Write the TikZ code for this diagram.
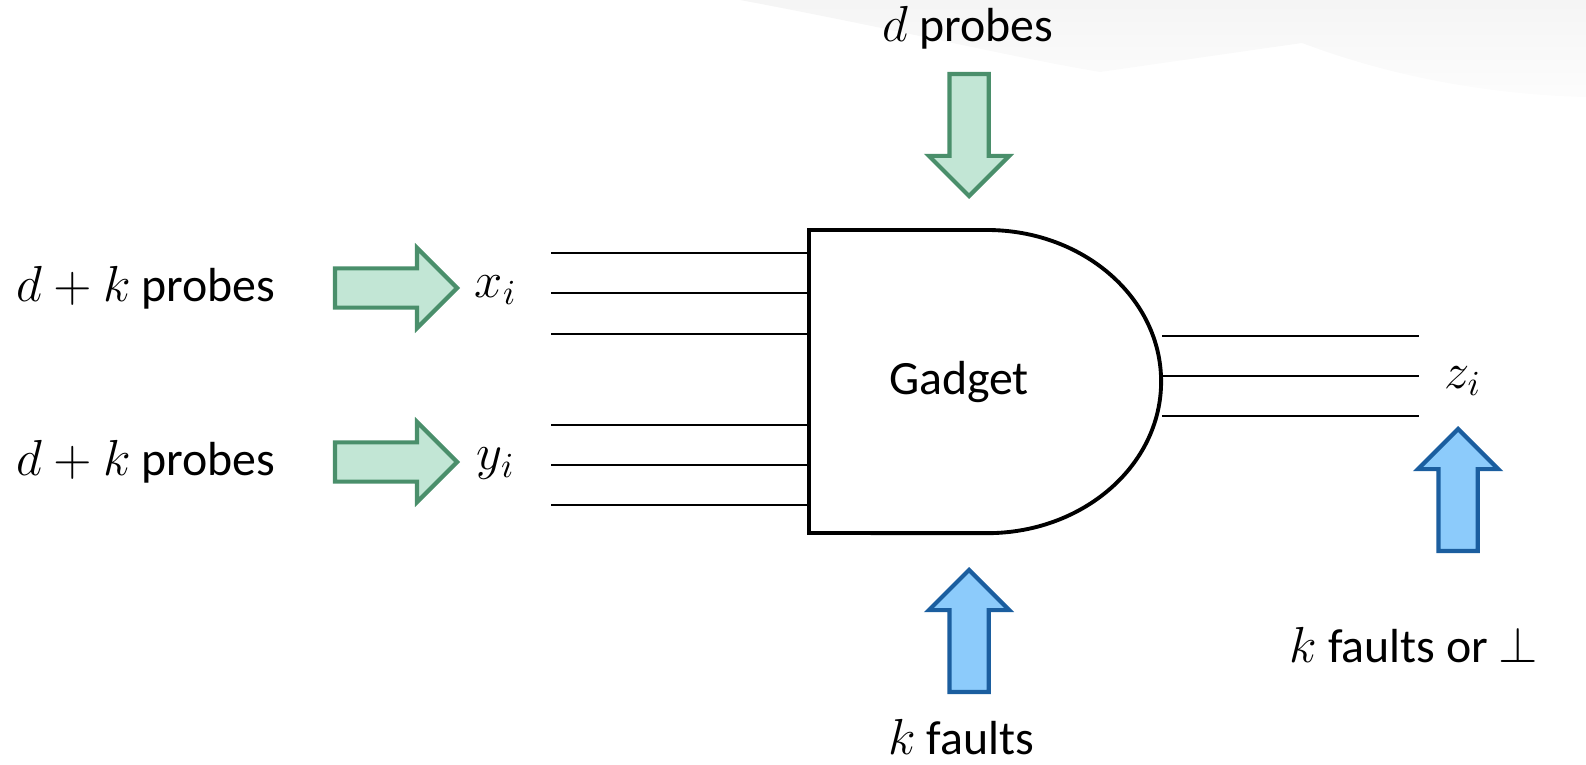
\documentclass[tikz,border=0pt]{standalone}
\usepackage{fontspec}
\setmainfont{Carlito}
\usetikzlibrary{shapes.arrows,positioning}
\definecolor{ProbeFill}{HTML}{C2E6D5}
\definecolor{ProbeLine}{HTML}{4A8F6B}
\definecolor{FaultFill}{HTML}{8CCBFB}
\definecolor{FaultLine}{HTML}{1B5E9F}

\begin{document}
\begin{tikzpicture}[x=0.01cm,y=-0.01cm,font=\fontsize{13.6}{16}\selectfont,
    blockarrow/.style={single arrow,draw,line width=1.2pt,inner sep=0.175cm,
      minimum height=1.22cm,single arrow head extend=0.205cm,single arrow tip angle=90,anchor=tip},
    probe/.style={blockarrow,fill=ProbeFill,draw=ProbeLine},
    fault/.style={blockarrow,fill=FaultFill,draw=FaultLine},
    wire/.style={line width=0.5pt}]
        \useasboundingbox (0,0) rectangle (1586,764);
        \shade[top color=black!4,bottom color=black!1] (740,0) .. controls (900,30) and (1000,55) .. (1100,72)
            -- (1302,43) .. controls (1400,80) and (1500,95) .. (1586,97) -- (1586,0) -- cycle;
        % the gadget
        \draw[line width=1.1pt] (809,230) -- (987,230)
            arc[start angle=90,end angle=-90,x radius=1.74cm,y radius=1.515cm] -- (809,533) -- cycle;
        \node (gadget) at (959,382) {Gadget};
        \foreach \y in {253,293,334,425,465,505}
          \draw[wire] (551,\y) -- (809,\y);
        \foreach \y in {336,376,416}
          \draw[wire] (1162,\y) -- (1419,\y);
        % probes and faults
        \node[probe] (arrx) at (460,288) {};
        \node[probe] (arry) at (460,462) {};
        \node[probe,shape border rotate=270] (arrd) at (969,199) {};
        \node[fault,shape border rotate=90] (arrk) at (969,567) {};
        \node[fault,shape border rotate=90] (arrz) at (1458,426) {};
        \node[left=0.45cm of arrx.tail] (px) {$d+k$ probes};
        \node[left=0.45cm of arry.tail] (py) {$d+k$ probes};
        \node (xi) at (496,290) {$x_i$};
        \node (yi) at (496,464) {$y_i$};
        \node (zi) at (1463,381) {$z_i$};
        \node (pd) at (968,28) {$d$ probes};
        \node[inner sep=1pt] (fk) at (961,737) {$k$ faults};
        \node (fz) at (1414,645) {$k$ faults or $\perp$};
      \end{tikzpicture}
\end{document}
